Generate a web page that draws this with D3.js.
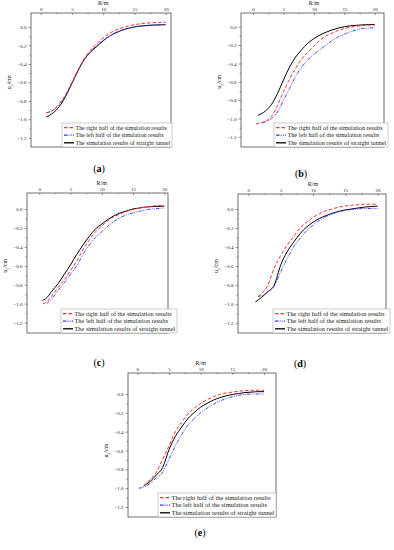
<!DOCTYPE html>
<html>
<head>
<meta charset="utf-8">
<script src="https://cdn.jsdelivr.net/npm/d3@7"></script>
<style>
  body { margin: 0; background: #fff; }
  svg { display: block; font-family: "Liberation Serif", "Times New Roman", serif; }
</style>
</head>
<body>
<svg id="viz" width="394" height="550"></svg>
<script>
// tick labels / legend text
const xTicks = [0, 5, 10, 15, 20];
const yTicks = [0, -0.2, -0.4, -0.6, -0.8, -1.0, -1.2];
const legendLabels = [
    'The right half of the simulation results',
    'The left half of the simulation results',
    'The simulation results of straight tunnel'
];

// (a)  [R, u_y]
const aRight = [[0.9,-0.93],[2,-0.90],[3,-0.83],[4,-0.73],[5,-0.60],[6,-0.46],[7,-0.34],[8,-0.25],[9,-0.18],[10,-0.12],[11,-0.07],[12,-0.035],[13,-0.01],[14,0.01],[15,0.025],[16,0.035],[17,0.042],[18,0.047],[19,0.05],[20,0.05]];
const aLeft = [[0.9,-0.93],[2,-0.90],[3,-0.84],[4,-0.74],[5,-0.61],[6,-0.47],[7,-0.35],[8,-0.26],[9,-0.20],[10,-0.145],[11,-0.10],[12,-0.06],[13,-0.035],[14,-0.015],[15,0.0],[16,0.01],[17,0.016],[18,0.02],[19,0.023],[20,0.025]];
const aStraight = [[0.9,-0.975],[2,-0.93],[3,-0.86],[4,-0.75],[5,-0.61],[6,-0.47],[7,-0.35],[8,-0.27],[9,-0.21],[10,-0.15],[11,-0.10],[12,-0.065],[13,-0.035],[14,-0.015],[15,0.0],[16,0.01],[17,0.015],[18,0.02],[19,0.022],[20,0.025]];

// (b)
const bRight = [[0.5,-1.06],[1,-1.05],[2,-1.03],[3,-0.98],[4,-0.86],[5,-0.71],[6,-0.57],[7,-0.45],[8,-0.35],[9,-0.28],[10,-0.21],[11,-0.15],[12,-0.10],[13,-0.07],[14,-0.04],[15,-0.02],[16,-0.005],[17,0.005],[18,0.012],[19,0.016],[20,0.018]];
const bLeft = [[1.5,-1.05],[2,-1.04],[3,-1.0],[4,-0.93],[5,-0.80],[6,-0.67],[7,-0.54],[8,-0.44],[9,-0.36],[10,-0.30],[11,-0.25],[12,-0.20],[13,-0.15],[14,-0.11],[15,-0.08],[16,-0.055],[17,-0.035],[18,-0.02],[19,-0.015],[20,-0.01]];
const bStraight = [[0.8,-0.965],[2,-0.92],[3,-0.85],[4,-0.73],[5,-0.58],[6,-0.44],[7,-0.33],[8,-0.25],[9,-0.18],[10,-0.13],[11,-0.09],[12,-0.06],[13,-0.035],[14,-0.015],[15,0.0],[16,0.01],[17,0.015],[18,0.02],[19,0.022],[20,0.025]];

// (c)
const cRight = [[0.6,-1.0],[1,-0.99],[2,-0.92],[3,-0.83],[4,-0.75],[5,-0.65],[6,-0.55],[7,-0.43],[8,-0.33],[9,-0.24],[10,-0.18],[11,-0.12],[12,-0.08],[13,-0.05],[14,-0.025],[15,-0.005],[16,0.01],[17,0.02],[18,0.03],[19,0.035],[20,0.04]];
const cLeft = [[1.2,-1.0],[2,-0.95],[3,-0.86],[4,-0.78],[5,-0.69],[6,-0.60],[7,-0.48],[8,-0.38],[9,-0.30],[10,-0.24],[11,-0.18],[12,-0.13],[13,-0.09],[14,-0.06],[15,-0.04],[16,-0.025],[17,-0.01],[18,0.0],[19,0.005],[20,0.01]];
const cStraight = [[0.5,-0.965],[1,-0.95],[2,-0.87],[3,-0.79],[4,-0.69],[5,-0.59],[6,-0.48],[7,-0.38],[8,-0.29],[9,-0.21],[10,-0.16],[11,-0.11],[12,-0.07],[13,-0.04],[14,-0.02],[15,0.0],[16,0.01],[17,0.02],[18,0.025],[19,0.028],[20,0.03]];

// (d)
const dRight = [[1.5,-0.92],[2,-0.89],[3,-0.80],[4,-0.62],[5,-0.49],[6,-0.38],[7,-0.29],[8,-0.20],[9,-0.14],[10,-0.09],[11,-0.05],[12,-0.02],[13,0.0],[14,0.02],[15,0.03],[16,0.04],[17,0.045],[18,0.05],[19,0.05],[20,0.05]];
const dLeft = [[1.5,-0.92],[2,-0.91],[3,-0.87],[4,-0.81],[5,-0.66],[6,-0.52],[7,-0.40],[8,-0.31],[9,-0.23],[10,-0.17],[11,-0.12],[12,-0.08],[13,-0.05],[14,-0.03],[15,-0.015],[16,-0.005],[17,0.0],[18,0.005],[19,0.005],[20,0.005]];
const dStraight = [[1.1,-0.975],[2,-0.93],[3,-0.87],[4,-0.80],[5,-0.59],[6,-0.45],[7,-0.35],[8,-0.26],[9,-0.19],[10,-0.14],[11,-0.10],[12,-0.07],[13,-0.045],[14,-0.025],[15,-0.01],[16,0.0],[17,0.01],[18,0.02],[19,0.025],[20,0.03]];

// (e)
const eRight = [[1,-0.975],[2,-0.91],[3,-0.83],[4,-0.69],[5,-0.55],[6,-0.40],[7,-0.30],[8,-0.21],[9,-0.15],[10,-0.10],[11,-0.06],[12,-0.03],[13,-0.005],[14,0.01],[15,0.02],[16,0.03],[17,0.035],[18,0.04],[19,0.04],[20,0.04]];
const eLeft = [[0.2,-1.0],[1,-0.99],[2,-0.95],[3,-0.89],[4,-0.83],[5,-0.69],[6,-0.55],[7,-0.43],[8,-0.33],[9,-0.26],[10,-0.20],[11,-0.15],[12,-0.11],[13,-0.075],[14,-0.05],[15,-0.03],[16,-0.015],[17,-0.005],[18,0.0],[19,0.0],[20,0.0]];
const eStraight = [[1,-0.975],[2,-0.93],[3,-0.86],[4,-0.78],[5,-0.59],[6,-0.45],[7,-0.35],[8,-0.26],[9,-0.195],[10,-0.14],[11,-0.10],[12,-0.065],[13,-0.04],[14,-0.02],[15,-0.005],[16,0.005],[17,0.015],[18,0.02],[19,0.025],[20,0.025]];

// panel layout (plot box: left, top, right, bottom)
const panels = [
    { tag: 'a', box: [31, 13, 171, 147], xd: [-1.55, 20.85], yd: [-1.3, 0.151], legX: 62, legW: 110, tagXY: [99, 168], data: [aRight, aLeft, aStraight] },
    { tag: 'b', box: [241, 13, 384, 147], xd: [-1.97, 21.5], yd: [-1.31, 0.149], legX: 274, legW: 114, tagXY: [301, 173], data: [bRight, bLeft, bStraight] },
    { tag: 'c', box: [27, 193, 168, 333], xd: [-1.96, 20.6], yd: [-1.31, 0.169], legX: 61, legW: 116, tagXY: [99, 362], data: [cRight, cLeft, cStraight] },
    { tag: 'd', box: [238, 194, 386, 333], xd: [-1.6, 21.3], yd: [-1.302, 0.157], legX: 273, legW: 117, tagXY: [300, 363], data: [dRight, dLeft, dStraight] },
    { tag: 'e', box: [128, 373, 276, 517], xd: [-1.48, 21.9], yd: [-1.306, 0.223], legX: 158, legW: 118, tagXY: [200, 532], data: [eRight, eLeft, eStraight] }
];

const styles = [
    { color: '#ff3030', dash: '3.5,2', width: 1.0 },
    { color: '#3030ff', dash: '3.5,1.2,0.9,1.2,0.9,1.2', width: 0.9 },
    { color: '#000000', dash: null, width: 1.0 }
];

let svg = d3.select('#viz');

panels.forEach((p) => {
    let [left, top, right, bottom] = p.box;
    let x = d3.scaleLinear().domain(p.xd).range([left, right]);
    let y = d3.scaleLinear().domain(p.yd).range([bottom, top]);
    let g = svg.append('g');

    // top axis (ticks pointing in)
    g.append('g')
        .attr('transform', 'translate(0,' + top + ')')
        .call(d3.axisTop(x).tickValues(xTicks).tickFormat(d3.format('d')).tickSize(-2).tickPadding(1.6))
        .call((a) => a.select('.domain').remove())
        .call((a) => a.selectAll('text').attr('font-size', 5).attr('font-family', 'Liberation Serif').attr('fill', '#222'));
    g.append('g')
        .attr('transform', 'translate(0,' + top + ')')
        .call(d3.axisTop(x).tickValues([2.5, 7.5, 12.5, 17.5]).tickSize(-1.2).tickFormat(''))
        .call((a) => a.select('.domain').remove());

    // left axis (ticks pointing out)
    g.append('g')
        .attr('transform', 'translate(' + left + ',0)')
        .call(d3.axisLeft(y).tickValues(yTicks).tickFormat(d3.format('.1f')).tickSize(2.5).tickPadding(2))
        .call((a) => a.select('.domain').remove())
        .call((a) => a.selectAll('text').attr('font-size', 5).attr('font-family', 'Liberation Serif').attr('fill', '#222'));
    g.append('g')
        .attr('transform', 'translate(' + left + ',0)')
        .call(d3.axisLeft(y).tickValues([-0.1, -0.3, -0.5, -0.7, -0.9, -1.1]).tickSize(1.4).tickFormat(''))
        .call((a) => a.select('.domain').remove());

    g.selectAll('.tick line').attr('stroke', '#333').attr('stroke-width', 0.5);

    // frame
    g.append('rect')
        .attr('x', left).attr('y', top)
        .attr('width', right - left).attr('height', bottom - top)
        .attr('fill', 'none')
        .attr('stroke', '#333')
        .attr('stroke-width', 0.7);

    // axis titles
    g.append('text')
        .attr('x', x(10))
        .attr('y', top - 8)
        .attr('text-anchor', 'middle')
        .attr('font-size', 6)
        .attr('fill', '#222')
        .text('R/m');
    let yt = g.append('text')
        .attr('transform', 'translate(' + (left - 20) + ',' + y(-0.6) + ') rotate(-90)')
        .attr('text-anchor', 'middle')
        .attr('font-size', 6)
        .attr('fill', '#222');
    yt.append('tspan').text('u');
    yt.append('tspan').attr('font-size', 4).attr('dy', 1.5).text('y');
    yt.append('tspan').attr('dy', -1.5).text('/cm');

    // curves
    let line = d3.line()
        .x((d) => x(d[0]))
        .y((d) => y(d[1]))
        .curve(d3.curveMonotoneX);
    [2, 1, 0].forEach((i) => {
        g.append('path')
            .datum(p.data[i])
            .attr('d', line)
            .attr('fill', 'none')
            .attr('stroke', styles[i].color)
            .attr('stroke-width', styles[i].width)
            .attr('stroke-dasharray', styles[i].dash);
    });

    // legend
    let legH = 24;
    let leg = g.append('g').attr('transform', 'translate(' + p.legX + ',' + (bottom - legH) + ')');
    leg.append('rect')
        .attr('width', p.legW).attr('height', legH)
        .attr('fill', '#fff')
        .attr('stroke', '#aaa')
        .attr('stroke-width', 0.6);
    let texts = [];
    legendLabels.forEach((lab, i) => {
        let cy = 4.6 + i * 7.6;
        leg.append('line')
            .attr('x1', 2).attr('x2', 12)
            .attr('y1', cy).attr('y2', cy)
            .attr('stroke', styles[i].color)
            .attr('stroke-width', styles[i].width + 0.3)
            .attr('stroke-dasharray', styles[i].dash);
        texts.push(leg.append('text')
            .attr('x', 13.5).attr('y', cy)
            .attr('dy', '0.35em')
            .attr('font-size', 10)
            .attr('fill', '#222')
            .text(lab));
    });
    // fit the legend text to the box width
    let widest = d3.max(texts, (t) => t.node().getComputedTextLength());
    let fs = Math.min(7.4, 10 * (p.legW - 15) / widest);
    texts.forEach((t) => t.attr('font-size', fs));

    // panel tag
    let tag = g.append('text')
        .attr('x', p.tagXY[0]).attr('y', p.tagXY[1])
        .attr('dy', '0.35em')
        .attr('text-anchor', 'middle')
        .attr('font-size', 10);
    tag.append('tspan').text('(');
    tag.append('tspan').attr('font-weight', 'bold').text(p.tag);
    tag.append('tspan').text(')');
});
</script>
</body>
</html>
